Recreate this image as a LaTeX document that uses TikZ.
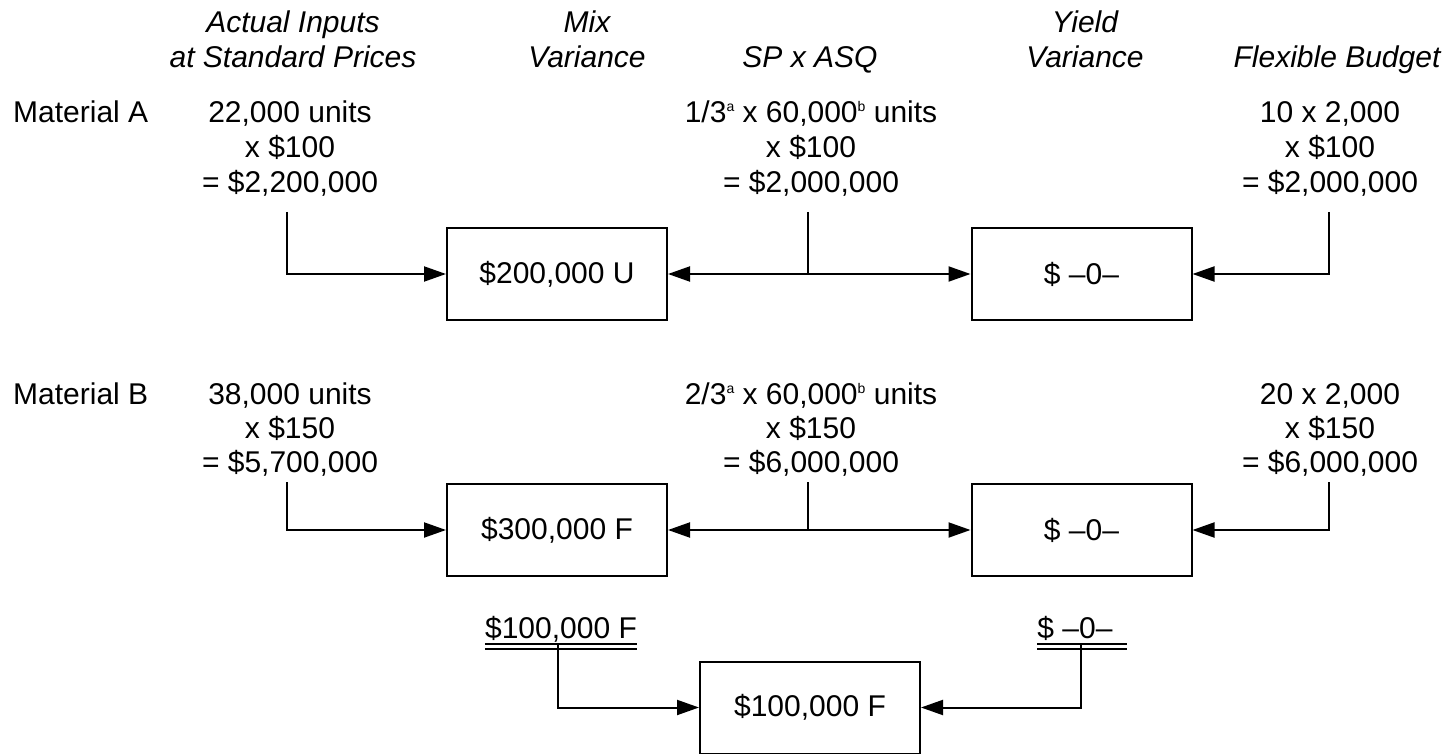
\documentclass[tikz,border=0pt]{standalone}
\usepackage{fontspec}
\setmainfont{Liberation Sans}
\usetikzlibrary{arrows.meta}
\newcommand{\supl}[1]{\raisebox{11pt}{\fontsize{14}{14}\selectfont #1}}
\begin{document}
\begin{tikzpicture}[x=1pt,y=-1pt,
  txt/.style={font=\fontsize{30}{35}\selectfont, inner sep=0pt, anchor=base},
  hdr/.style={txt, font=\fontsize{30}{35}\selectfont\itshape},
  lbl/.style={txt, anchor=base west},
  vbox/.style={draw, line width=2pt, minimum width=220pt, minimum height=92pt, font=\fontsize{30}{35}\selectfont, inner sep=0pt},
  conn/.style={line width=2pt},
  arr/.style={line width=2pt, -{Triangle[length=22pt,width=15pt]}},
  dbl/.style={line width=1.5pt},
]
\useasboundingbox (0,0) rectangle (1452,754);
% headers
\node[hdr] (h1a) at (293,33) {Actual Inputs};
\node[hdr] (h1b) at (293,68) {at Standard Prices};
\node[hdr] (h2a) at (587,33) {Mix};
\node[hdr] (h2b) at (587,68) {Variance};
\node[hdr] (h3b) at (810,68) {SP x ASQ};
\node[hdr] (h4a) at (1085,33) {Yield};
\node[hdr] (h4b) at (1085,68) {Variance};
\node[hdr] (h5b) at (1337,68) {Flexible Budget};
% row A
\node[lbl] (matA) at (13,123) {Material A};
\node[txt] (a11) at (290,123) {22,000 units};
\node[txt] (a12) at (290,158) {x \$100};
\node[txt] (a13) at (290,193) {= \$2,200,000};
\node[txt] (a21) at (811,123) {1/3\supl{a} x 60,000\supl{b} units};
\node[txt] (a22) at (811,158) {x \$100};
\node[txt] (a23) at (811,193) {= \$2,000,000};
\node[txt] (a31) at (1330,123) {10 x 2,000};
\node[txt] (a32) at (1330,158) {x \$100};
\node[txt] (a33) at (1330,193) {= \$2,000,000};
\node[vbox] (mixA) at (557,274) {\$200,000 U};
\node[vbox] (yldA) at (1081.5,274) {\$ \textendash0\textendash};
\coordinate (pA1) at (287,212);
\coordinate (pA2) at (808,212);
\coordinate (pA3) at (1329,212);
\coordinate (mA) at (808,274);
\draw[arr] (pA1) |- (mixA.west);
\draw[conn] (pA2) -- (mA);
\draw[arr] (mA) -- (mixA.east);
\draw[arr] (mA) -- (yldA.west);
\draw[arr] (pA3) |- (yldA.east);
% row B
\node[lbl] (matB) at (13,404) {Material B};
\node[txt] (b11) at (290,404) {38,000 units};
\node[txt] (b12) at (290,438) {x \$150};
\node[txt] (b13) at (290,472) {= \$5,700,000};
\node[txt] (b21) at (811,404) {2/3\supl{a} x 60,000\supl{b} units};
\node[txt] (b22) at (811,438) {x \$150};
\node[txt] (b23) at (811,472) {= \$6,000,000};
\node[txt] (b31) at (1330,404) {20 x 2,000};
\node[txt] (b32) at (1330,438) {x \$150};
\node[txt] (b33) at (1330,472) {= \$6,000,000};
\node[vbox] (mixB) at (557,530) {\$300,000 F};
\node[vbox] (yldB) at (1081.5,530) {\$ \textendash0\textendash};
\coordinate (pB1) at (287,482);
\coordinate (pB2) at (808,482);
\coordinate (pB3) at (1329,482);
\coordinate (mB) at (808,530);
\draw[arr] (pB1) |- (mixB.west);
\draw[conn] (pB2) -- (mB);
\draw[arr] (mB) -- (mixB.east);
\draw[arr] (mB) -- (yldB.west);
\draw[arr] (pB3) |- (yldB.east);
% totals
\node[txt] (tm) at (561,638) {\$100,000 F};
\node[txt] (ty) at (1075,638) {\$ \textendash0\textendash};
\draw[dbl] ([yshift=-6pt]tm.base west) -- ([yshift=-6pt]tm.base east);
\draw[dbl] ([yshift=-11pt]tm.base west) -- ([yshift=-11pt]tm.base east);
\draw[dbl] ([yshift=-6pt]ty.base west) -- ([yshift=-6pt,xshift=14pt]ty.base east);
\draw[dbl] ([yshift=-11pt]ty.base west) -- ([yshift=-11pt,xshift=14pt]ty.base east);
\node[vbox] (fin) at (810,707.5) {\$100,000 F};
\coordinate (q1) at (558,644);
\coordinate (q2) at (1081,644);
\draw[arr] (q1) |- (fin.west);
\draw[arr] (q2) |- (fin.east);
\end{tikzpicture}
\end{document}
